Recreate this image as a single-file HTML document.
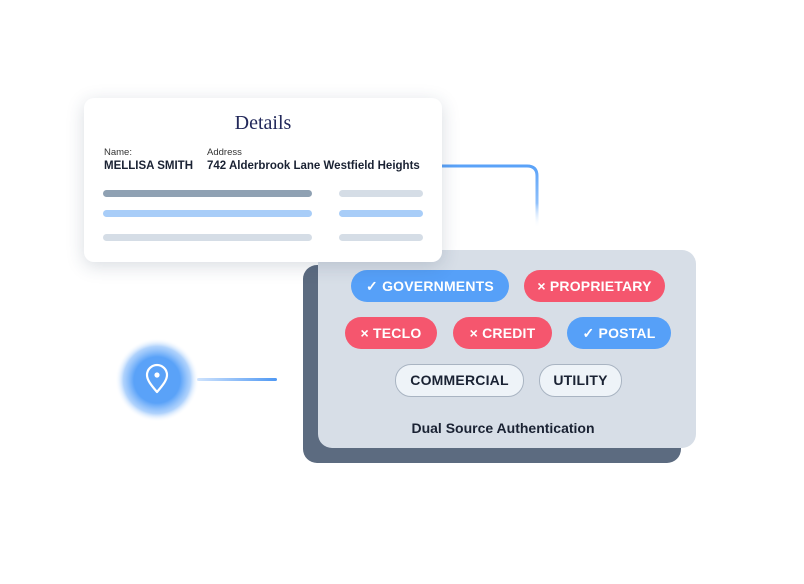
<!DOCTYPE html>
<html><head><style>
body{margin:0;width:804px;height:584px;background:#fff;position:relative;overflow:hidden;font-family:"Liberation Sans",sans-serif}
.a{position:absolute}
.card{left:84px;top:98px;width:358px;height:164px;background:#fff;border-radius:10px;box-shadow:0 4px 18px rgba(40,60,90,.18);z-index:3}
.bar{position:absolute;height:7px;border-radius:4px}
.pill{position:absolute;height:32px;border-radius:16px;color:#fff;font-size:14px;font-weight:bold;line-height:32px;text-align:center;letter-spacing:.2px}
.b{background:#56a0f8}.r{background:#f5566e}.w{background:#eef3f8;border:1px solid #a9b4c2;color:#1a2233;height:31px;line-height:31px}
</style></head><body>
<svg class="a" style="left:0;top:0" width="804" height="584">
<defs><linearGradient id="g" x1="0" y1="0" x2="0" y2="1"><stop offset="0" stop-color="#5aa2f8"/><stop offset=".6" stop-color="#8fc0fb"/><stop offset="1" stop-color="#fff" stop-opacity="0"/></linearGradient>
<linearGradient id="h" x1="0" x2="1"><stop offset="0" stop-color="#cfe3fd"/><stop offset="1" stop-color="#4f98f3"/></linearGradient>
<radialGradient id="glow"><stop offset=".55" stop-color="#5aa2f8"/><stop offset=".8" stop-color="#8fc0fb" stop-opacity=".7"/><stop offset="1" stop-color="#fff" stop-opacity="0"/></radialGradient></defs>
<path d="M440 166 H527 Q537 166 537 176 V228" fill="none" stroke="url(#g)" stroke-width="3"/>
<rect x="197" y="378" width="80" height="3" rx="1.5" fill="url(#h)"/>
<circle cx="157" cy="380" r="42" fill="url(#glow)"/>
<path d="M157 392 C151 385 147 380 147 375 A10 10 0 0 1 167 375 C167 380 163 385 157 392Z" fill="none" stroke="#fff" stroke-width="2.2" stroke-linejoin="round"/>
<circle cx="157" cy="375" r="2.6" fill="#fff"/>
</svg>
<div class="a" style="left:303px;top:265px;width:378px;height:198px;background:#5c6b80;border-radius:14px"></div>
<div class="a" style="left:318px;top:250px;width:378px;height:198px;background:#d7dee7;border-radius:14px"></div>
<div class="a card">
<div class="a" style="left:0;width:358px;top:14px;text-align:center;font-family:'Liberation Serif',serif;font-size:20px;color:#22285a">Details</div>
<div class="a" style="left:20px;top:49px;font-size:9.5px;color:#333">Name:</div>
<div class="a" style="left:20px;top:62px;font-size:11.5px;font-weight:bold;color:#1a2233">MELLISA SMITH</div>
<div class="a" style="left:123px;top:49px;font-size:9.5px;color:#333">Address</div>
<div class="a" style="left:123px;top:62px;font-size:11.5px;font-weight:bold;color:#1a2233">742 Alderbrook Lane Westfield Heights</div>
<div class="bar" style="left:19px;top:92px;width:209px;background:#8fa1b3"></div>
<div class="bar" style="left:255px;top:92px;width:84px;background:#d5dde6"></div>
<div class="bar" style="left:19px;top:112px;width:209px;background:#a8cdf8"></div>
<div class="bar" style="left:255px;top:112px;width:84px;background:#a8cdf8"></div>
<div class="bar" style="left:19px;top:136px;width:209px;background:#d5dde6"></div>
<div class="bar" style="left:255px;top:136px;width:84px;background:#d5dde6"></div>
</div>
<div class="pill b" style="left:351px;top:270px;width:158px">✓ GOVERNMENTS</div>
<div class="pill r" style="left:524px;top:270px;width:141px">× PROPRIETARY</div>
<div class="pill r" style="left:345px;top:317px;width:92px">× TECLO</div>
<div class="pill r" style="left:453px;top:317px;width:99px">× CREDIT</div>
<div class="pill b" style="left:567px;top:317px;width:104px">✓ POSTAL</div>
<div class="pill w" style="left:395px;top:364px;width:127px">COMMERCIAL</div>
<div class="pill w" style="left:539px;top:364px;width:81px">UTILITY</div>
<div class="a" style="left:318px;width:370px;top:420px;text-align:center;font-size:14px;font-weight:bold;color:#1a2233">Dual Source Authentication</div>
</body></html>
